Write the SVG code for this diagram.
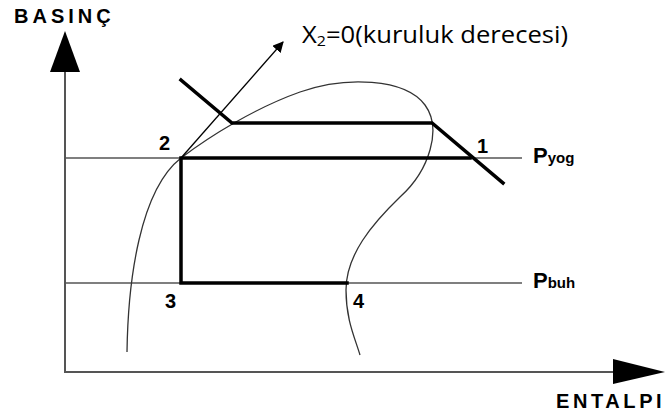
<svg xmlns="http://www.w3.org/2000/svg" width="670" height="419" viewBox="0 0 670 419">
<style>
.axis{stroke:#555;stroke-width:2;fill:none}
.thin{stroke:#555;stroke-width:1.5;fill:none}
.thick{stroke:#000;stroke-width:3.5;fill:none;stroke-linecap:square}
.curve{stroke:#333;stroke-width:1.3;fill:none}
.lbl{font-family:"Liberation Sans",Arial,sans-serif;font-weight:bold;fill:#000}
.note{font-family:"Open Sans","Noto Sans",sans-serif;fill:#000}
</style>
<defs>
<marker id="ah" viewBox="0 0 10 10" refX="9" refY="5" markerWidth="11" markerHeight="11" markerUnits="userSpaceOnUse" orient="auto">
<path d="M0,0 L10,5 L0,10 z" fill="#000"/>
</marker>
</defs>
<rect width="670" height="419" fill="#fff"/>
<g id="axes">
<path class="axis" d="M65,72 V372 H613"/>
<polygon points="50,72 80,72 65,31" fill="#000"/>
<polygon points="613,359 613,384 665,372" fill="#000"/>
<text class="lbl" x="14" y="23" font-size="20" letter-spacing="4">BASINÇ</text>
<text class="lbl" x="556" y="408" font-size="20" letter-spacing="3.6">ENTALPI</text>
</g>
<g id="pressure-lines">
<line class="thin" x1="65" y1="158" x2="522" y2="158"/>
<line class="thin" x1="65" y1="283" x2="522" y2="283"/>
<text class="lbl" x="533" y="163" font-size="22">P<tspan font-size="15">yog</tspan></text>
<text class="lbl" x="533" y="288" font-size="22">P<tspan font-size="15">buh</tspan></text>
</g>
<g id="dome">
<path class="curve" d="M127,352 C128,280 140,190 181,158 C210,136 255,108 300,92 C345,76 405,78 425,105 C442,128 430,170 400,197 C372,224 346,255 346,290 C346,320 355,338 360,355"/>
</g>
<g id="cycle">
<path class="thick" d="M181,80 L232,123 H432 L503,183"/>
<path class="thick" d="M470,158 H181 V283 H347"/>
</g>
<g id="connectors">
<line x1="181" y1="158" x2="283" y2="42" stroke="#000" stroke-width="1.3" marker-end="url(#ah)"/>
</g>
<g id="labels">
<text class="lbl" x="159" y="150" font-size="20">2</text>
<text class="lbl" x="477" y="153" font-size="20">1</text>
<text class="lbl" x="165" y="308" font-size="20">3</text>
<text class="lbl" x="353" y="308" font-size="20">4</text>
<text class="note" x="302" y="43" font-size="24" textLength="266" lengthAdjust="spacingAndGlyphs">X<tspan font-size="15" dy="3">2</tspan><tspan dy="-3">=0(kuruluk derecesi)</tspan></text>
</g>
</svg>
